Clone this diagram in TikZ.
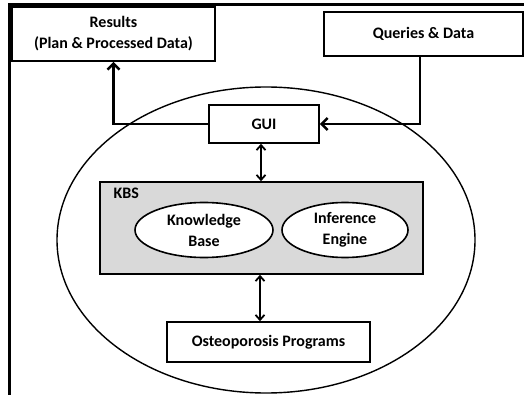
\documentclass[tikz,border=0pt]{standalone}
\usepackage{fontspec}
\setmainfont{Carlito}
\usetikzlibrary{arrows.meta,shapes.geometric}
\begin{document}
\begin{tikzpicture}[x=1pt,y=-1pt,
  lbl/.style={font=\bfseries\fontsize{16}{21}\selectfont, align=center},
  box/.style={lbl, draw, line width=1.6pt, fill=white, inner sep=0pt},
  oval/.style={lbl, ellipse, draw, line width=1.6pt, fill=white, inner sep=0pt},
  conn/.style={line width=2.6pt, -{Straight Barb[length=6pt,width=12pt]}},
  dconn/.style={line width=1.8pt, {Straight Barb[length=5pt,width=9pt]}-{Straight Barb[length=5pt,width=9pt]}}]
\useasboundingbox (0,0) rectangle (524,395);
% page frame
\draw[line width=2.6pt] (9.5,395) -- (9.5,4.5) -- (524,4.5);
% system boundary
\node[draw, ellipse, line width=1.4pt, minimum width=418pt, minimum height=306pt, inner sep=0pt] (sys) at (266,240) {};
% external boxes
\node[box, minimum width=203pt, minimum height=54pt] (res) at (113.5,34) {Results\\(Plan \& Processed Data)};
\node[box, minimum width=199pt, minimum height=44pt] (qd) at (423.5,34) {Queries \& Data};
% interface
\node[box, minimum width=110pt, minimum height=38pt] (gui) at (264,124) {GUI};
% knowledge based system
\node[box, fill=gray!30, minimum width=323pt, minimum height=92pt] (kbs) at (261.5,228) {};
\node[lbl, anchor=west] (kbslbl) at (110,193) {KBS};
\node[oval, minimum width=138pt, minimum height=55pt] (kb) at (204,230) {Knowledge\\Base};
\node[oval, minimum width=126pt, minimum height=55pt] (ie) at (345,230) {Inference\\Engine};
% programs
\node[box, minimum width=203pt, minimum height=40pt] (op) at (268.5,342) {Osteoporosis Programs};
% connectors
\draw[conn] (gui.west) -| (res.south);
\draw[conn] ([xshift=-3.5pt]qd.south) |- (gui.east);
\draw[dconn] ([xshift=-3pt]gui.south) -- ([xshift=-3pt]gui.south |- kbs.north);
\draw[dconn] ([xshift=-1.5pt]kbs.south) -- ([xshift=-1.5pt]kbs.south |- op.north);
\end{tikzpicture}
\end{document}
